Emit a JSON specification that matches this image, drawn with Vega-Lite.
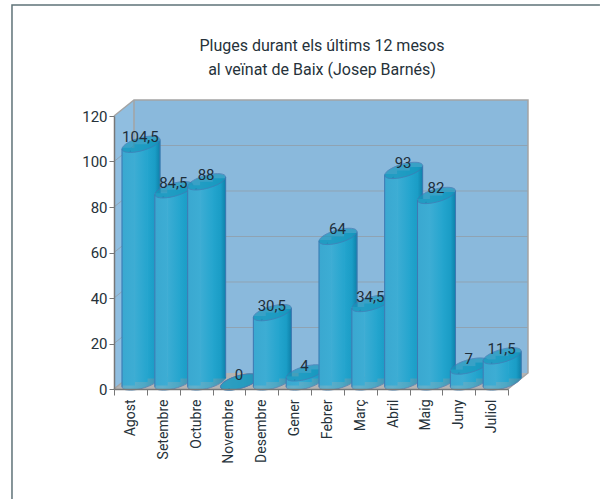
{"$schema":"https://vega.github.io/schema/vega-lite/v6.json","width":394,"height":273,"autosize":"none","padding":{"left":114,"top":116,"right":92,"bottom":110},"background":"white","title":{"text":["Pluges durant els últims 12 mesos","al veïnat de Baix (Josep Barnés)"],"font":"Roboto","fontSize":16,"fontWeight":"normal","color":"#26323a","lineHeight":24,"anchor":"middle","dx":11,"offset":-76},"config":{"view":{"stroke":null}},"datasets":{"mesos":[{"mes":"Agost","v":104.5,"etiqueta":"104,5"},{"mes":"Setembre","v":84.5,"etiqueta":"84,5"},{"mes":"Octubre","v":88,"etiqueta":"88"},{"mes":"Novembre","v":0,"etiqueta":"0"},{"mes":"Desembre","v":30.5,"etiqueta":"30,5"},{"mes":"Gener","v":4,"etiqueta":"4"},{"mes":"Febrer","v":64,"etiqueta":"64"},{"mes":"Març","v":34.5,"etiqueta":"34,5"},{"mes":"Abril","v":93,"etiqueta":"93"},{"mes":"Maig","v":82,"etiqueta":"82"},{"mes":"Juny","v":7,"etiqueta":"7"},{"mes":"Juliol","v":11.5,"etiqueta":"11,5"}]},"data":{"name":"mesos"},"resolve":{"scale":{"x":"independent"}},"layer":[
{"layer":[
{"data":{"values":[{"x":0.609,"a":7.03,"b":127.03},{"x":12.609,"a":7.03,"b":127.03}]},"mark":{"type":"area","fill":"#8ab9dc"},"encoding":{"x":{"field":"x","type":"quantitative","scale":{"domain":[0,12],"nice":false,"zero":false},"axis":null},"y":{"field":"a","type":"quantitative","scale":{"domain":[0,120],"nice":false},"axis":{"title":null,"values":[0,20,40,60,80,100,120],"grid":false,"labelFont":"Roboto","labelFontSize":15,"labelColor":"#26323a","tickColor":"#777","tickSize":5,"domainColor":"#777","domainWidth":1.5,"labelPadding":2,"zindex":1}},"y2":{"field":"b"}}},
{"data":{"values":[{"x":0,"a":0,"b":120},{"x":0.609,"a":7.03,"b":127.03}]},"mark":{"type":"area","fill":"#90bee0"},"encoding":{"x":{"field":"x","type":"quantitative"},"y":{"field":"a","type":"quantitative"},"y2":{"field":"b"}}},
{"data":{"values":[{"x":0,"a":0,"b":0},{"x":0.609,"a":0,"b":7.03},{"x":12,"a":0,"b":7.03},{"x":12.609,"a":7.03,"b":7.03}]},"mark":{"type":"area","fill":"#b4b4b4"},"encoding":{"x":{"field":"x","type":"quantitative"},"y":{"field":"a","type":"quantitative"},"y2":{"field":"b"}}},
{"data":{"values":[{"n":20,"x":0,"y":20},{"n":20,"x":0.609,"y":27.03},{"n":20,"x":12.609,"y":27.03},{"n":40,"x":0,"y":40},{"n":40,"x":0.609,"y":47.03},{"n":40,"x":12.609,"y":47.03},{"n":60,"x":0,"y":60},{"n":60,"x":0.609,"y":67.03},{"n":60,"x":12.609,"y":67.03},{"n":80,"x":0,"y":80},{"n":80,"x":0.609,"y":87.03},{"n":80,"x":12.609,"y":87.03},{"n":100,"x":0,"y":100},{"n":100,"x":0.609,"y":107.03},{"n":100,"x":12.609,"y":107.03}]},"mark":{"type":"line","stroke":"#8fa3b3","strokeWidth":1},"encoding":{"x":{"field":"x","type":"quantitative"},"y":{"field":"y","type":"quantitative"},"detail":{"field":"n"}}},
{"data":{"values":[{"n":1,"o":1,"x":0,"y":120},{"n":1,"o":2,"x":0.609,"y":127.03},{"n":1,"o":3,"x":12.609,"y":127.03},{"n":1,"o":4,"x":12.609,"y":7.03},{"n":1,"o":5,"x":12,"y":0},{"n":2,"o":1,"x":0.609,"y":127.03},{"n":2,"o":2,"x":0.609,"y":7.03},{"n":2,"o":3,"x":0,"y":0}]},"mark":{"type":"line","stroke":"#a4a4a4","strokeWidth":1.5},"encoding":{"x":{"field":"x","type":"quantitative"},"y":{"field":"y","type":"quantitative"},"detail":{"field":"n"},"order":{"field":"o"}}},
{"data":{"values":[{"o":1,"x":-3.107,"y":-48.35},{"o":2,"x":-3.107,"y":168.8},{"o":3,"x":14.8,"y":168.8}]},"mark":{"type":"line","stroke":"#5f7378","strokeWidth":1.5},"encoding":{"x":{"field":"x","type":"quantitative"},"y":{"field":"y","type":"quantitative"},"order":{"field":"o"}}}
]},
{"encoding":{"x":{"field":"mes","type":"nominal","sort":null,"scale":{"paddingInner":0,"paddingOuter":0,"domain":["Agost","Setembre","Octubre","Novembre","Desembre","Gener","Febrer","Març","Abril","Maig","Juny","Juliol"]},"axis":{"title":null,"orient":"bottom","labelAngle":-90,"labelFont":"Roboto","labelFontSize":14,"labelColor":"#26323a","labelPadding":4,"tickBand":"extent","tickColor":"#777","tickSize":6,"domainColor":"#777","domainWidth":1.5,"zindex":1}},"y":{"field":"v","type":"quantitative"},"fill":{"value":{"x1":0,"x2":1,"y1":0,"y2":0,"gradient":"linear","stops":[{"offset":0,"color":"#3aa8d0"},{"offset":0.2,"color":"#40afd6"},{"offset":0.6,"color":"#22a4cd"},{"offset":1,"color":"#0e7fa8"}]}},"stroke":{"value":"#3f78b2"},"strokeWidth":{"value":1},"shape":{"value":"M1 -.25C1 -.057 .552 .212 0 .35C-.552 .488 -1 .443 -1 .25C-1 .057 -.552 -.212 0 -.35C.552 -.488 1 -.443 1 -.25Z"},"size":{"value":1444}},"layer":[
{"transform":[{"filter":"datum.mes==='Agost'"}],"layer":[{"mark":{"type":"point","filled":true,"xOffset":10.6,"yOffset":-7},"encoding":{"y":{"datum":0}}},{"mark":{"type":"bar","xOffset":-2.07,"yOffset":-3.5,"y2Offset":-3.5},"encoding":{"y2":{"datum":0},"size":{"value":13.2},"stroke":{"value":null},"fill":{"value":{"x1":0,"x2":1,"y1":0,"y2":0,"gradient":"linear","stops":[{"offset":0,"color":"#3aa8d0"},{"offset":1,"color":"#3dadd4"}]}}}},{"mark":{"type":"bar","xOffset":10.6,"yOffset":-7,"y2Offset":-7},"encoding":{"y2":{"datum":0},"size":{"value":13.2},"stroke":{"value":null},"fill":{"value":{"x1":0,"x2":1,"y1":0,"y2":0,"gradient":"linear","stops":[{"offset":0,"color":"#3dadd4"},{"offset":1,"color":"#24a5ce"}]}}}},{"mark":{"type":"bar","xOffset":23.27,"yOffset":-10.5,"y2Offset":-10.5},"encoding":{"y2":{"datum":0},"size":{"value":13.2},"stroke":{"value":null},"fill":{"value":{"x1":0,"x2":1,"y1":0,"y2":0,"gradient":"linear","stops":[{"offset":0,"color":"#24a5ce"},{"offset":0.6,"color":"#1a9dc6"},{"offset":1,"color":"#0e7fa8"}]}}}},{"mark":{"type":"rule","xOffset":-8.4,"yOffset":-2.25,"y2Offset":-2.25},"encoding":{"y2":{"datum":0},"size":{"value":1}}},{"mark":{"type":"rule","xOffset":29.6,"yOffset":-11.75,"y2Offset":-11.75},"encoding":{"y2":{"datum":0},"size":{"value":1}}},{"mark":{"type":"point","filled":true,"xOffset":10.6,"yOffset":-7},"encoding":{"fill":{"value":"#1797bd"}}}]},
{"transform":[{"filter":"datum.mes==='Setembre'"}],"layer":[{"mark":{"type":"point","filled":true,"xOffset":10.6,"yOffset":-7},"encoding":{"y":{"datum":0}}},{"mark":{"type":"bar","xOffset":-2.07,"yOffset":-3.5,"y2Offset":-3.5},"encoding":{"y2":{"datum":0},"size":{"value":13.2},"stroke":{"value":null},"fill":{"value":{"x1":0,"x2":1,"y1":0,"y2":0,"gradient":"linear","stops":[{"offset":0,"color":"#3aa8d0"},{"offset":1,"color":"#3dadd4"}]}}}},{"mark":{"type":"bar","xOffset":10.6,"yOffset":-7,"y2Offset":-7},"encoding":{"y2":{"datum":0},"size":{"value":13.2},"stroke":{"value":null},"fill":{"value":{"x1":0,"x2":1,"y1":0,"y2":0,"gradient":"linear","stops":[{"offset":0,"color":"#3dadd4"},{"offset":1,"color":"#24a5ce"}]}}}},{"mark":{"type":"bar","xOffset":23.27,"yOffset":-10.5,"y2Offset":-10.5},"encoding":{"y2":{"datum":0},"size":{"value":13.2},"stroke":{"value":null},"fill":{"value":{"x1":0,"x2":1,"y1":0,"y2":0,"gradient":"linear","stops":[{"offset":0,"color":"#24a5ce"},{"offset":0.6,"color":"#1a9dc6"},{"offset":1,"color":"#0e7fa8"}]}}}},{"mark":{"type":"rule","xOffset":-8.4,"yOffset":-2.25,"y2Offset":-2.25},"encoding":{"y2":{"datum":0},"size":{"value":1}}},{"mark":{"type":"rule","xOffset":29.6,"yOffset":-11.75,"y2Offset":-11.75},"encoding":{"y2":{"datum":0},"size":{"value":1}}},{"mark":{"type":"point","filled":true,"xOffset":10.6,"yOffset":-7},"encoding":{"fill":{"value":"#1797bd"}}}]},
{"transform":[{"filter":"datum.mes==='Octubre'"}],"layer":[{"mark":{"type":"point","filled":true,"xOffset":10.6,"yOffset":-7},"encoding":{"y":{"datum":0}}},{"mark":{"type":"bar","xOffset":-2.07,"yOffset":-3.5,"y2Offset":-3.5},"encoding":{"y2":{"datum":0},"size":{"value":13.2},"stroke":{"value":null},"fill":{"value":{"x1":0,"x2":1,"y1":0,"y2":0,"gradient":"linear","stops":[{"offset":0,"color":"#3aa8d0"},{"offset":1,"color":"#3dadd4"}]}}}},{"mark":{"type":"bar","xOffset":10.6,"yOffset":-7,"y2Offset":-7},"encoding":{"y2":{"datum":0},"size":{"value":13.2},"stroke":{"value":null},"fill":{"value":{"x1":0,"x2":1,"y1":0,"y2":0,"gradient":"linear","stops":[{"offset":0,"color":"#3dadd4"},{"offset":1,"color":"#24a5ce"}]}}}},{"mark":{"type":"bar","xOffset":23.27,"yOffset":-10.5,"y2Offset":-10.5},"encoding":{"y2":{"datum":0},"size":{"value":13.2},"stroke":{"value":null},"fill":{"value":{"x1":0,"x2":1,"y1":0,"y2":0,"gradient":"linear","stops":[{"offset":0,"color":"#24a5ce"},{"offset":0.6,"color":"#1a9dc6"},{"offset":1,"color":"#0e7fa8"}]}}}},{"mark":{"type":"rule","xOffset":-8.4,"yOffset":-2.25,"y2Offset":-2.25},"encoding":{"y2":{"datum":0},"size":{"value":1}}},{"mark":{"type":"rule","xOffset":29.6,"yOffset":-11.75,"y2Offset":-11.75},"encoding":{"y2":{"datum":0},"size":{"value":1}}},{"mark":{"type":"point","filled":true,"xOffset":10.6,"yOffset":-7},"encoding":{"fill":{"value":"#1797bd"}}}]},
{"transform":[{"filter":"datum.mes==='Novembre'"}],"layer":[{"mark":{"type":"point","filled":true,"xOffset":10.6,"yOffset":-7},"encoding":{"y":{"datum":0}}},{"mark":{"type":"bar","xOffset":-2.07,"yOffset":-3.5,"y2Offset":-3.5},"encoding":{"y2":{"datum":0},"size":{"value":13.2},"stroke":{"value":null},"fill":{"value":{"x1":0,"x2":1,"y1":0,"y2":0,"gradient":"linear","stops":[{"offset":0,"color":"#3aa8d0"},{"offset":1,"color":"#3dadd4"}]}}}},{"mark":{"type":"bar","xOffset":10.6,"yOffset":-7,"y2Offset":-7},"encoding":{"y2":{"datum":0},"size":{"value":13.2},"stroke":{"value":null},"fill":{"value":{"x1":0,"x2":1,"y1":0,"y2":0,"gradient":"linear","stops":[{"offset":0,"color":"#3dadd4"},{"offset":1,"color":"#24a5ce"}]}}}},{"mark":{"type":"bar","xOffset":23.27,"yOffset":-10.5,"y2Offset":-10.5},"encoding":{"y2":{"datum":0},"size":{"value":13.2},"stroke":{"value":null},"fill":{"value":{"x1":0,"x2":1,"y1":0,"y2":0,"gradient":"linear","stops":[{"offset":0,"color":"#24a5ce"},{"offset":0.6,"color":"#1a9dc6"},{"offset":1,"color":"#0e7fa8"}]}}}},{"mark":{"type":"rule","xOffset":-8.4,"yOffset":-2.25,"y2Offset":-2.25},"encoding":{"y2":{"datum":0},"size":{"value":1}}},{"mark":{"type":"rule","xOffset":29.6,"yOffset":-11.75,"y2Offset":-11.75},"encoding":{"y2":{"datum":0},"size":{"value":1}}},{"mark":{"type":"point","filled":true,"xOffset":10.6,"yOffset":-7},"encoding":{"fill":{"value":"#1797bd"}}}]},
{"transform":[{"filter":"datum.mes==='Desembre'"}],"layer":[{"mark":{"type":"point","filled":true,"xOffset":10.6,"yOffset":-7},"encoding":{"y":{"datum":0}}},{"mark":{"type":"bar","xOffset":-2.07,"yOffset":-3.5,"y2Offset":-3.5},"encoding":{"y2":{"datum":0},"size":{"value":13.2},"stroke":{"value":null},"fill":{"value":{"x1":0,"x2":1,"y1":0,"y2":0,"gradient":"linear","stops":[{"offset":0,"color":"#3aa8d0"},{"offset":1,"color":"#3dadd4"}]}}}},{"mark":{"type":"bar","xOffset":10.6,"yOffset":-7,"y2Offset":-7},"encoding":{"y2":{"datum":0},"size":{"value":13.2},"stroke":{"value":null},"fill":{"value":{"x1":0,"x2":1,"y1":0,"y2":0,"gradient":"linear","stops":[{"offset":0,"color":"#3dadd4"},{"offset":1,"color":"#24a5ce"}]}}}},{"mark":{"type":"bar","xOffset":23.27,"yOffset":-10.5,"y2Offset":-10.5},"encoding":{"y2":{"datum":0},"size":{"value":13.2},"stroke":{"value":null},"fill":{"value":{"x1":0,"x2":1,"y1":0,"y2":0,"gradient":"linear","stops":[{"offset":0,"color":"#24a5ce"},{"offset":0.6,"color":"#1a9dc6"},{"offset":1,"color":"#0e7fa8"}]}}}},{"mark":{"type":"rule","xOffset":-8.4,"yOffset":-2.25,"y2Offset":-2.25},"encoding":{"y2":{"datum":0},"size":{"value":1}}},{"mark":{"type":"rule","xOffset":29.6,"yOffset":-11.75,"y2Offset":-11.75},"encoding":{"y2":{"datum":0},"size":{"value":1}}},{"mark":{"type":"point","filled":true,"xOffset":10.6,"yOffset":-7},"encoding":{"fill":{"value":"#1797bd"}}}]},
{"transform":[{"filter":"datum.mes==='Gener'"}],"layer":[{"mark":{"type":"point","filled":true,"xOffset":10.6,"yOffset":-7},"encoding":{"y":{"datum":0}}},{"mark":{"type":"bar","xOffset":-2.07,"yOffset":-3.5,"y2Offset":-3.5},"encoding":{"y2":{"datum":0},"size":{"value":13.2},"stroke":{"value":null},"fill":{"value":{"x1":0,"x2":1,"y1":0,"y2":0,"gradient":"linear","stops":[{"offset":0,"color":"#3aa8d0"},{"offset":1,"color":"#3dadd4"}]}}}},{"mark":{"type":"bar","xOffset":10.6,"yOffset":-7,"y2Offset":-7},"encoding":{"y2":{"datum":0},"size":{"value":13.2},"stroke":{"value":null},"fill":{"value":{"x1":0,"x2":1,"y1":0,"y2":0,"gradient":"linear","stops":[{"offset":0,"color":"#3dadd4"},{"offset":1,"color":"#24a5ce"}]}}}},{"mark":{"type":"bar","xOffset":23.27,"yOffset":-10.5,"y2Offset":-10.5},"encoding":{"y2":{"datum":0},"size":{"value":13.2},"stroke":{"value":null},"fill":{"value":{"x1":0,"x2":1,"y1":0,"y2":0,"gradient":"linear","stops":[{"offset":0,"color":"#24a5ce"},{"offset":0.6,"color":"#1a9dc6"},{"offset":1,"color":"#0e7fa8"}]}}}},{"mark":{"type":"rule","xOffset":-8.4,"yOffset":-2.25,"y2Offset":-2.25},"encoding":{"y2":{"datum":0},"size":{"value":1}}},{"mark":{"type":"rule","xOffset":29.6,"yOffset":-11.75,"y2Offset":-11.75},"encoding":{"y2":{"datum":0},"size":{"value":1}}},{"mark":{"type":"point","filled":true,"xOffset":10.6,"yOffset":-7},"encoding":{"fill":{"value":"#1797bd"}}}]},
{"transform":[{"filter":"datum.mes==='Febrer'"}],"layer":[{"mark":{"type":"point","filled":true,"xOffset":10.6,"yOffset":-7},"encoding":{"y":{"datum":0}}},{"mark":{"type":"bar","xOffset":-2.07,"yOffset":-3.5,"y2Offset":-3.5},"encoding":{"y2":{"datum":0},"size":{"value":13.2},"stroke":{"value":null},"fill":{"value":{"x1":0,"x2":1,"y1":0,"y2":0,"gradient":"linear","stops":[{"offset":0,"color":"#3aa8d0"},{"offset":1,"color":"#3dadd4"}]}}}},{"mark":{"type":"bar","xOffset":10.6,"yOffset":-7,"y2Offset":-7},"encoding":{"y2":{"datum":0},"size":{"value":13.2},"stroke":{"value":null},"fill":{"value":{"x1":0,"x2":1,"y1":0,"y2":0,"gradient":"linear","stops":[{"offset":0,"color":"#3dadd4"},{"offset":1,"color":"#24a5ce"}]}}}},{"mark":{"type":"bar","xOffset":23.27,"yOffset":-10.5,"y2Offset":-10.5},"encoding":{"y2":{"datum":0},"size":{"value":13.2},"stroke":{"value":null},"fill":{"value":{"x1":0,"x2":1,"y1":0,"y2":0,"gradient":"linear","stops":[{"offset":0,"color":"#24a5ce"},{"offset":0.6,"color":"#1a9dc6"},{"offset":1,"color":"#0e7fa8"}]}}}},{"mark":{"type":"rule","xOffset":-8.4,"yOffset":-2.25,"y2Offset":-2.25},"encoding":{"y2":{"datum":0},"size":{"value":1}}},{"mark":{"type":"rule","xOffset":29.6,"yOffset":-11.75,"y2Offset":-11.75},"encoding":{"y2":{"datum":0},"size":{"value":1}}},{"mark":{"type":"point","filled":true,"xOffset":10.6,"yOffset":-7},"encoding":{"fill":{"value":"#1797bd"}}}]},
{"transform":[{"filter":"datum.mes==='Març'"}],"layer":[{"mark":{"type":"point","filled":true,"xOffset":10.6,"yOffset":-7},"encoding":{"y":{"datum":0}}},{"mark":{"type":"bar","xOffset":-2.07,"yOffset":-3.5,"y2Offset":-3.5},"encoding":{"y2":{"datum":0},"size":{"value":13.2},"stroke":{"value":null},"fill":{"value":{"x1":0,"x2":1,"y1":0,"y2":0,"gradient":"linear","stops":[{"offset":0,"color":"#3aa8d0"},{"offset":1,"color":"#3dadd4"}]}}}},{"mark":{"type":"bar","xOffset":10.6,"yOffset":-7,"y2Offset":-7},"encoding":{"y2":{"datum":0},"size":{"value":13.2},"stroke":{"value":null},"fill":{"value":{"x1":0,"x2":1,"y1":0,"y2":0,"gradient":"linear","stops":[{"offset":0,"color":"#3dadd4"},{"offset":1,"color":"#24a5ce"}]}}}},{"mark":{"type":"bar","xOffset":23.27,"yOffset":-10.5,"y2Offset":-10.5},"encoding":{"y2":{"datum":0},"size":{"value":13.2},"stroke":{"value":null},"fill":{"value":{"x1":0,"x2":1,"y1":0,"y2":0,"gradient":"linear","stops":[{"offset":0,"color":"#24a5ce"},{"offset":0.6,"color":"#1a9dc6"},{"offset":1,"color":"#0e7fa8"}]}}}},{"mark":{"type":"rule","xOffset":-8.4,"yOffset":-2.25,"y2Offset":-2.25},"encoding":{"y2":{"datum":0},"size":{"value":1}}},{"mark":{"type":"rule","xOffset":29.6,"yOffset":-11.75,"y2Offset":-11.75},"encoding":{"y2":{"datum":0},"size":{"value":1}}},{"mark":{"type":"point","filled":true,"xOffset":10.6,"yOffset":-7},"encoding":{"fill":{"value":"#1797bd"}}}]},
{"transform":[{"filter":"datum.mes==='Abril'"}],"layer":[{"mark":{"type":"point","filled":true,"xOffset":10.6,"yOffset":-7},"encoding":{"y":{"datum":0}}},{"mark":{"type":"bar","xOffset":-2.07,"yOffset":-3.5,"y2Offset":-3.5},"encoding":{"y2":{"datum":0},"size":{"value":13.2},"stroke":{"value":null},"fill":{"value":{"x1":0,"x2":1,"y1":0,"y2":0,"gradient":"linear","stops":[{"offset":0,"color":"#3aa8d0"},{"offset":1,"color":"#3dadd4"}]}}}},{"mark":{"type":"bar","xOffset":10.6,"yOffset":-7,"y2Offset":-7},"encoding":{"y2":{"datum":0},"size":{"value":13.2},"stroke":{"value":null},"fill":{"value":{"x1":0,"x2":1,"y1":0,"y2":0,"gradient":"linear","stops":[{"offset":0,"color":"#3dadd4"},{"offset":1,"color":"#24a5ce"}]}}}},{"mark":{"type":"bar","xOffset":23.27,"yOffset":-10.5,"y2Offset":-10.5},"encoding":{"y2":{"datum":0},"size":{"value":13.2},"stroke":{"value":null},"fill":{"value":{"x1":0,"x2":1,"y1":0,"y2":0,"gradient":"linear","stops":[{"offset":0,"color":"#24a5ce"},{"offset":0.6,"color":"#1a9dc6"},{"offset":1,"color":"#0e7fa8"}]}}}},{"mark":{"type":"rule","xOffset":-8.4,"yOffset":-2.25,"y2Offset":-2.25},"encoding":{"y2":{"datum":0},"size":{"value":1}}},{"mark":{"type":"rule","xOffset":29.6,"yOffset":-11.75,"y2Offset":-11.75},"encoding":{"y2":{"datum":0},"size":{"value":1}}},{"mark":{"type":"point","filled":true,"xOffset":10.6,"yOffset":-7},"encoding":{"fill":{"value":"#1797bd"}}}]},
{"transform":[{"filter":"datum.mes==='Maig'"}],"layer":[{"mark":{"type":"point","filled":true,"xOffset":10.6,"yOffset":-7},"encoding":{"y":{"datum":0}}},{"mark":{"type":"bar","xOffset":-2.07,"yOffset":-3.5,"y2Offset":-3.5},"encoding":{"y2":{"datum":0},"size":{"value":13.2},"stroke":{"value":null},"fill":{"value":{"x1":0,"x2":1,"y1":0,"y2":0,"gradient":"linear","stops":[{"offset":0,"color":"#3aa8d0"},{"offset":1,"color":"#3dadd4"}]}}}},{"mark":{"type":"bar","xOffset":10.6,"yOffset":-7,"y2Offset":-7},"encoding":{"y2":{"datum":0},"size":{"value":13.2},"stroke":{"value":null},"fill":{"value":{"x1":0,"x2":1,"y1":0,"y2":0,"gradient":"linear","stops":[{"offset":0,"color":"#3dadd4"},{"offset":1,"color":"#24a5ce"}]}}}},{"mark":{"type":"bar","xOffset":23.27,"yOffset":-10.5,"y2Offset":-10.5},"encoding":{"y2":{"datum":0},"size":{"value":13.2},"stroke":{"value":null},"fill":{"value":{"x1":0,"x2":1,"y1":0,"y2":0,"gradient":"linear","stops":[{"offset":0,"color":"#24a5ce"},{"offset":0.6,"color":"#1a9dc6"},{"offset":1,"color":"#0e7fa8"}]}}}},{"mark":{"type":"rule","xOffset":-8.4,"yOffset":-2.25,"y2Offset":-2.25},"encoding":{"y2":{"datum":0},"size":{"value":1}}},{"mark":{"type":"rule","xOffset":29.6,"yOffset":-11.75,"y2Offset":-11.75},"encoding":{"y2":{"datum":0},"size":{"value":1}}},{"mark":{"type":"point","filled":true,"xOffset":10.6,"yOffset":-7},"encoding":{"fill":{"value":"#1797bd"}}}]},
{"transform":[{"filter":"datum.mes==='Juny'"}],"layer":[{"mark":{"type":"point","filled":true,"xOffset":10.6,"yOffset":-7},"encoding":{"y":{"datum":0}}},{"mark":{"type":"bar","xOffset":-2.07,"yOffset":-3.5,"y2Offset":-3.5},"encoding":{"y2":{"datum":0},"size":{"value":13.2},"stroke":{"value":null},"fill":{"value":{"x1":0,"x2":1,"y1":0,"y2":0,"gradient":"linear","stops":[{"offset":0,"color":"#3aa8d0"},{"offset":1,"color":"#3dadd4"}]}}}},{"mark":{"type":"bar","xOffset":10.6,"yOffset":-7,"y2Offset":-7},"encoding":{"y2":{"datum":0},"size":{"value":13.2},"stroke":{"value":null},"fill":{"value":{"x1":0,"x2":1,"y1":0,"y2":0,"gradient":"linear","stops":[{"offset":0,"color":"#3dadd4"},{"offset":1,"color":"#24a5ce"}]}}}},{"mark":{"type":"bar","xOffset":23.27,"yOffset":-10.5,"y2Offset":-10.5},"encoding":{"y2":{"datum":0},"size":{"value":13.2},"stroke":{"value":null},"fill":{"value":{"x1":0,"x2":1,"y1":0,"y2":0,"gradient":"linear","stops":[{"offset":0,"color":"#24a5ce"},{"offset":0.6,"color":"#1a9dc6"},{"offset":1,"color":"#0e7fa8"}]}}}},{"mark":{"type":"rule","xOffset":-8.4,"yOffset":-2.25,"y2Offset":-2.25},"encoding":{"y2":{"datum":0},"size":{"value":1}}},{"mark":{"type":"rule","xOffset":29.6,"yOffset":-11.75,"y2Offset":-11.75},"encoding":{"y2":{"datum":0},"size":{"value":1}}},{"mark":{"type":"point","filled":true,"xOffset":10.6,"yOffset":-7},"encoding":{"fill":{"value":"#1797bd"}}}]},
{"transform":[{"filter":"datum.mes==='Juliol'"}],"layer":[{"mark":{"type":"point","filled":true,"xOffset":10.6,"yOffset":-7},"encoding":{"y":{"datum":0}}},{"mark":{"type":"bar","xOffset":-2.07,"yOffset":-3.5,"y2Offset":-3.5},"encoding":{"y2":{"datum":0},"size":{"value":13.2},"stroke":{"value":null},"fill":{"value":{"x1":0,"x2":1,"y1":0,"y2":0,"gradient":"linear","stops":[{"offset":0,"color":"#3aa8d0"},{"offset":1,"color":"#3dadd4"}]}}}},{"mark":{"type":"bar","xOffset":10.6,"yOffset":-7,"y2Offset":-7},"encoding":{"y2":{"datum":0},"size":{"value":13.2},"stroke":{"value":null},"fill":{"value":{"x1":0,"x2":1,"y1":0,"y2":0,"gradient":"linear","stops":[{"offset":0,"color":"#3dadd4"},{"offset":1,"color":"#24a5ce"}]}}}},{"mark":{"type":"bar","xOffset":23.27,"yOffset":-10.5,"y2Offset":-10.5},"encoding":{"y2":{"datum":0},"size":{"value":13.2},"stroke":{"value":null},"fill":{"value":{"x1":0,"x2":1,"y1":0,"y2":0,"gradient":"linear","stops":[{"offset":0,"color":"#24a5ce"},{"offset":0.6,"color":"#1a9dc6"},{"offset":1,"color":"#0e7fa8"}]}}}},{"mark":{"type":"rule","xOffset":-8.4,"yOffset":-2.25,"y2Offset":-2.25},"encoding":{"y2":{"datum":0},"size":{"value":1}}},{"mark":{"type":"rule","xOffset":29.6,"yOffset":-11.75,"y2Offset":-11.75},"encoding":{"y2":{"datum":0},"size":{"value":1}}},{"mark":{"type":"point","filled":true,"xOffset":10.6,"yOffset":-7},"encoding":{"fill":{"value":"#1797bd"}}}]},
{"mark":{"type":"text","font":"Roboto","fontSize":15,"xOffset":10,"yOffset":-14},"encoding":{"text":{"field":"etiqueta"},"fill":{"value":"#1d2e3a"},"stroke":{"value":null},"size":{"value":15}}}
]}
]}
